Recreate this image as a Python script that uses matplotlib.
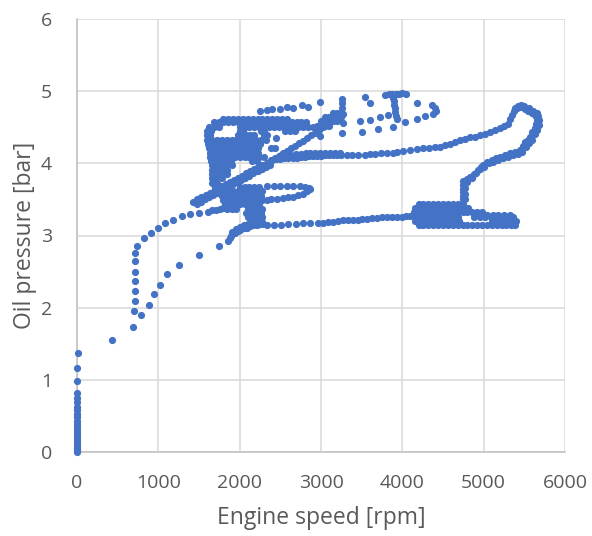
import matplotlib
matplotlib.use('Agg')
import matplotlib.pyplot as plt
import numpy as np

# idle, engine at 0 rpm while pressure builds
idle_rpm = [0, 0, 0, 0, 0, 0, 0, 0, 0, 0, 0, 0, 0, 0, 0, 0, 0, 0, 0, 0, 0, 5, 10]
idle_bar = [0.00, 0.03, 0.06, 0.09, 0.12, 0.15, 0.19, 0.23, 0.27, 0.31, 0.35, 0.39,
            0.43, 0.48, 0.53, 0.58, 0.63, 0.69, 0.75, 0.82, 0.98, 1.17, 1.37]

# first run-up (lower curve)
runup_rpm = [430, 685, 790, 885, 945, 1015, 1105, 1250, 1505, 1740, 1860, 1875, 1890,
             1910, 1940, 1975, 2010, 2050, 2090, 2130, 2170, 2210, 2250, 2290,
             1900, 1950, 2000, 2050, 2100, 2150, 2200, 2250]
runup_bar = [1.55, 1.73, 1.90, 2.04, 2.19, 2.32, 2.46, 2.59, 2.73, 2.86, 2.93, 2.97, 3.00,
             3.02, 3.04, 3.06, 3.08, 3.10, 3.11, 3.13, 3.14, 3.15, 3.16, 3.16,
             3.05, 3.09, 3.12, 3.14, 3.16, 3.18, 3.20, 3.21]

# second run-up (curve along 700 rpm)
runup2_rpm = [705, 709, 709, 709, 709, 709, 709, 742, 821, 905, 999, 1083, 1185, 1293,
              1395, 1498, 1605, 1660, 1710, 1760, 1800]
runup2_bar = [1.95, 2.09, 2.23, 2.37, 2.50, 2.64, 2.76, 2.86, 2.97, 3.03, 3.10, 3.17, 3.22,
              3.27, 3.30, 3.31, 3.33, 3.35, 3.36, 3.37, 3.38]

# line at ~3.2 bar towards the 4500 rpm block
line32_rpm = [2340, 2420, 2510, 2600, 2690, 2780, 2870, 2960, 3030, 3090, 3150, 3210,
              3270, 3330, 3390, 3450, 3510, 3570, 3630, 3690, 3750, 3810, 3870, 3930,
              3990, 4050, 4100]
line32_bar = [3.15, 3.15, 3.15, 3.16, 3.16, 3.17, 3.17, 3.18, 3.18, 3.19, 3.19, 3.20,
              3.21, 3.21, 3.22, 3.22, 3.23, 3.23, 3.24, 3.24, 3.25, 3.25, 3.26, 3.26,
              3.26, 3.27, 3.27]

# block near 4500 rpm and the tail to 5400 rpm
block_rows = [
    (3.44, [4200, 4260, 4320, 4380, 4440, 4500, 4560, 4620, 4680, 4740]),
    (3.38, [4150, 4210, 4270, 4330, 4390, 4450, 4510, 4570, 4630, 4690, 4750, 4810]),
    (3.32, [4140, 4200, 4260, 4320, 4380, 4440, 4500, 4560, 4620, 4680, 4740, 4800,
            4860, 4920, 4980]),
    (3.29, [5040, 5110, 5180, 5250, 5320]),
    (3.26, [4150, 4210, 4270, 4330, 4390, 4450, 4510, 4570, 4630, 4690, 4880, 4950,
            5020, 5090, 5160, 5230, 5300, 5360]),
    (3.20, [4160, 4220, 4280, 4340, 4400, 4460, 4520, 4580, 4640, 4700, 5100, 5170,
            5240, 5310, 5370, 5400]),
    (3.15, [4200, 4260, 4320, 4380, 4440, 4500, 4560, 4620, 4680, 4740, 4800, 4860,
            4920, 4980, 5040, 5100, 5160, 5220, 5280, 5340, 5390]),
]

# climb from the block to 5600 rpm and back
climb_rpm = [4740, 4745, 4750, 4750, 4745, 4750, 4770, 4775, 4775, 4770,
             4790, 4832, 4880, 4934, 4970, 4996, 5040, 5098, 5150, 5201, 5260, 5324,
             5390, 5447, 5480, 5508, 5540, 5570, 5600, 5631, 5645, 5652, 5645, 5631,
             5590, 5549, 5510, 5467, 5435, 5406, 5375, 5345, 5325, 5303, 5250, 5201,
             5140, 5078, 5015, 4955,
             4800, 4860, 4910, 4960, 5010, 5070, 5120, 5180, 5240, 5300, 5360, 5420,
             5470, 5520, 5560, 5600, 5630, 5660, 5680, 5685, 5670, 5660, 5610, 5560,
             5500, 5460, 5420, 5390]
climb_bar = [3.50, 3.55, 3.60, 3.65, 3.70, 3.75, 3.50, 3.58, 3.66, 3.73,
             3.78, 3.81, 3.85, 3.91, 3.95, 3.98, 4.02, 4.05, 4.07, 4.09, 4.12, 4.14,
             4.16, 4.18, 4.24, 4.30, 4.33, 4.37, 4.43, 4.49, 4.55, 4.60, 4.65, 4.67,
             4.70, 4.72, 4.75, 4.78, 4.78, 4.76, 4.72, 4.67, 4.61, 4.55, 4.52, 4.49,
             4.46, 4.44, 4.41, 4.39,
             3.74, 3.80, 3.86, 3.92, 3.95, 4.00, 4.02, 4.04, 4.07, 4.09, 4.11, 4.13,
             4.16, 4.22, 4.28, 4.33, 4.40, 4.46, 4.53, 4.60, 4.66, 4.70, 4.73, 4.76,
             4.79, 4.81, 4.80, 4.76]

# coast down along ~4.1 bar
coast_rpm = [4890, 4832, 4770, 4709, 4650, 4590, 4530, 4463, 4400, 4330, 4260, 4180,
             4100, 4012, 3940, 3882, 3810, 3738, 3660, 3603, 3541, 3459, 3377, 3316,
             3250, 3200, 3150, 3100, 3050, 3000, 2950, 2900, 2850, 2800, 2750, 2700,
             2650, 2600, 2550, 2500, 2450, 2400,
             3230, 3170, 3110, 3050, 2990, 2930, 2870, 2810, 2750, 2690, 2630, 2570, 2510]
coast_bar = [4.37, 4.36, 4.34, 4.32, 4.29, 4.27, 4.25, 4.23, 4.22, 4.21, 4.21, 4.20,
             4.18, 4.17, 4.16, 4.15, 4.14, 4.14, 4.13, 4.13, 4.12, 4.12, 4.12, 4.12,
             4.11, 4.11, 4.11, 4.11, 4.11, 4.10, 4.10, 4.10, 4.10, 4.09, 4.09, 4.08,
             4.08, 4.07, 4.07, 4.06, 4.06, 4.05,
             4.15, 4.15, 4.15, 4.15, 4.15, 4.14, 4.14, 4.14, 4.13, 4.13, 4.12, 4.12, 4.11]

# upper arc and the loops above 4.4 bar
arc_rpm = [2250, 2330, 2394, 2496, 2578, 2660, 2763, 2845, 2988, 3254, 3254, 3260,
           3541, 3603, 3787, 3830, 3870, 3920, 3960, 4000, 4040, 3890, 3895, 3900,
           3905, 3915, 3925, 3930, 4177, 4361, 4402, 4420, 4381, 4279, 4177, 4033,
           3882, 3705, 3500, 3254, 2988, 3480, 3603, 3726, 3828, 2450, 3271]
arc_bar = [4.72, 4.74, 4.75, 4.75, 4.78, 4.77, 4.81, 4.78, 4.85, 4.89, 4.83, 4.77,
           4.92, 4.83, 4.95, 4.96, 4.96, 4.96, 4.96, 4.97, 4.96, 4.91, 4.86, 4.81,
           4.76, 4.71, 4.66, 4.62, 4.83, 4.81, 4.76, 4.73, 4.69, 4.65, 4.61, 4.57,
           4.51, 4.48, 4.44, 4.42, 4.38, 4.59, 4.60, 4.64, 4.67, 4.35, 4.56]

# long diagonal from 1430 rpm to 3270 rpm
diag_rpm = [1430, 1480, 1530, 1580, 1630, 1680, 1730, 1780, 1830, 1880, 1930, 1980,
            2030, 2080, 2130, 2180, 2230, 2280, 2330, 2380, 2430, 2480, 2530, 2580,
            2630, 2680, 2730, 2780, 2830, 2880, 2930, 2980, 3030, 3080, 3130, 3180,
            3230, 3270,
            1470, 1520, 1570, 1620, 1670, 1720, 1770, 1820, 1870, 1920, 1970, 2020,
            2070, 2120, 2170, 2220, 2270, 2320, 2370]
diag_bar = [3.47, 3.50, 3.53, 3.56, 3.59, 3.62, 3.65, 3.68, 3.71, 3.74, 3.77, 3.80,
            3.83, 3.86, 3.89, 3.92, 3.95, 3.98, 4.01, 4.04, 4.07, 4.10, 4.14, 4.17,
            4.21, 4.24, 4.28, 4.31, 4.35, 4.39, 4.42, 4.46, 4.50, 4.54, 4.58, 4.62,
            4.65, 4.68,
            3.44, 3.47, 3.50, 3.53, 3.56, 3.59, 3.62, 3.65, 3.68, 3.71, 3.74, 3.77,
            3.80, 3.83, 3.86, 3.89, 3.92, 3.95, 3.98]

# dense cluster between 1600 and 2900 rpm
cluster_rows = [
    (4.70, [3150, 3200, 3250]),
    (4.64, [3050, 3100, 3150, 3200, 3250]),
    (4.62, [1800, 1860, 1920, 1980, 2040, 2100, 2160, 2220, 2280, 2340, 2400, 2460,
            2520, 2580]),
    (4.58, [3000, 3050, 3100, 3150, 3200]),
    (4.57, [1680, 1740, 1800, 1860, 1920, 1980, 2040, 2100, 2160, 2220, 2280, 2340,
            2400, 2460, 2520, 2580, 2640, 2700, 2760, 2820]),
    (4.52, [2950, 3000, 3050, 3100]),
    (4.51, [1620, 1680, 1740, 2000, 2060, 2120, 2180, 2240, 2300, 2360, 2420, 2480,
            2540, 2600, 2660, 2720, 2780, 2840, 2900]),
    (4.45, [1600, 1650, 2000, 2040, 2260, 2300, 2560, 2620, 2680]),
    (4.39, [1600, 1640, 1980, 2030, 2080, 2130, 2180, 2300, 2340]),
    (4.33, [1600, 1660, 1720, 1780, 1840, 1900, 1960, 2020, 2080, 2140, 2200, 2260,
            2320]),
    (4.27, [1610, 1670, 1730, 1790, 1850, 1910, 1970, 2030, 2090, 2150, 2200, 2250]),
    (4.21, [1620, 1680, 1740, 1800, 1860, 1920, 1980, 2040, 2100, 2160, 2220, 2380,
            2440]),
    (4.15, [1630, 1690, 1750, 1810, 1870, 1930, 1990, 2050, 2110, 2170, 2230]),
    (4.09, [1640, 1700, 1760, 1820, 1880, 1940, 2000, 2060, 2120, 2180, 2240, 2300]),
    (4.03, [1650, 1710, 1770, 1830, 1890, 2150, 2210]),
    (3.97, [1660, 1720, 1780, 1840, 1900]),
    (3.91, [1660, 1720, 1780, 1840]),
    (3.85, [1660, 1720, 1780, 1840]),
    (3.79, [1660, 1720, 1780]),
    (3.73, [1660, 1720]),
    (3.67, [1700, 1760, 2000, 2060, 2120, 2180, 2240]),
    (3.61, [1740, 1800, 1860, 1920, 1980, 2040, 2100, 2160, 2220, 2280]),
    (3.55, [1780, 1840, 1900, 1960, 2020, 2080, 2140, 2200, 2260]),
    (3.49, [1800, 1860, 1920, 1980, 2040, 2100, 2160, 2220, 2280]),
    (3.43, [1820, 1880, 1940, 2000, 2060, 2120, 2180, 2240]),
    (3.37, [1840, 1900, 1960, 2100, 2160, 2220, 2280]),
    (3.31, [2080, 2140, 2200, 2260]),
    (3.25, [2100, 2160, 2220, 2280]),
    (3.19, [2150, 2210, 2270]),
]

# small loop at ~3.6 bar
loop_rpm = [2340, 2420, 2500, 2580, 2660, 2740, 2800, 2850, 2870, 2830, 2780, 2720,
            2660, 2600, 2530, 2460, 2390, 2330]
loop_bar = [3.69, 3.69, 3.69, 3.69, 3.68, 3.68, 3.67, 3.66, 3.64, 3.61, 3.58, 3.56,
            3.54, 3.53, 3.52, 3.51, 3.50, 3.49]


def expand(rows):
    xs, ys = [], []
    for b, rpms in rows:
        xs += rpms
        ys += [b] * len(rpms)
    return xs, ys


block_rpm, block_bar = expand(block_rows)
cluster_rpm, cluster_bar = expand(cluster_rows)

rpm = np.concatenate([idle_rpm, runup_rpm, runup2_rpm, line32_rpm, block_rpm, climb_rpm,
                      coast_rpm, arc_rpm, diag_rpm, cluster_rpm, loop_rpm])
bar = np.concatenate([idle_bar, runup_bar, runup2_bar, line32_bar, block_bar, climb_bar,
                      coast_bar, arc_bar, diag_bar, cluster_bar, loop_bar])

plt.rcParams['font.family'] = ['Open Sans', 'DejaVu Sans']
txt = '#595959'

fig = plt.figure(figsize=(5.92, 5.36), dpi=100)
ax = fig.add_axes([77 / 592, 1 - 452 / 536, 488 / 592, 433 / 536])

ax.scatter(rpm, bar, s=27, color='#4472C4', linewidths=0, zorder=3, clip_on=False)

ax.set_xlim(0, 6000)
ax.set_ylim(0, 6)
ax.set_xticks(np.arange(0, 6001, 1000))
ax.set_yticks(np.arange(0, 7, 1))
ax.grid(True, color='#d9d9d9', linewidth=1.1)
ax.set_axisbelow(True)
for s in ['top', 'right']:
    ax.spines[s].set_visible(False)
for s in ['left', 'bottom']:
    ax.spines[s].set_color('#bfbfbf')
    ax.spines[s].set_linewidth(1.1)
ax.tick_params(length=0, labelsize=14, labelcolor=txt)
ax.tick_params(axis='x', pad=16)
ax.tick_params(axis='y', pad=18)

ax.set_xlabel('Engine speed [rpm]', fontsize=16.5, color=txt, labelpad=10)
ax.set_ylabel('Oil pressure [bar]', fontsize=16.5, color=txt, labelpad=3)

fig.savefig('out.png', dpi=100)
